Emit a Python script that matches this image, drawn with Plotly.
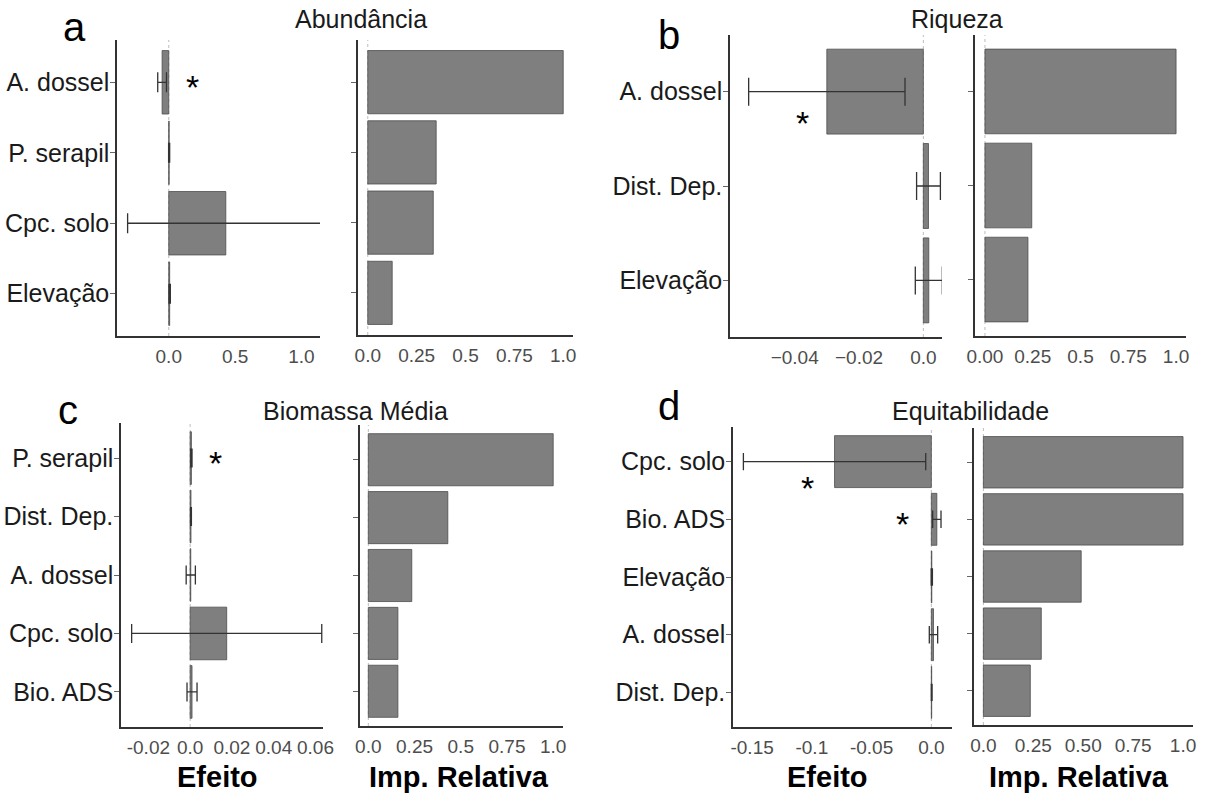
import plotly.graph_objects as go

W, H = 1206, 796
FONT = "Liberation Sans, Arial, sans-serif"

# ---------------- data ----------------
a_cats = ["A. dossel", "P. serapil", "Cpc. solo", "Elevação"]
a_eff = [-0.05, 0.003, 0.43, 0.007]
a_err = [0.033, 0.004, 0.74, 0.005]
a_imp = [1.0, 0.35, 0.335, 0.125]

b_cats = ["A. dossel", "Dist. Dep.", "Elevação"]
b_eff = [-0.030, 0.0016, 0.0017]
b_err = [0.0243, 0.0037, 0.0042]
b_imp = [1.0, 0.245, 0.225]

c_cats = ["P. serapil", "Dist. Dep.", "A. dossel", "Cpc. solo", "Bio. ADS"]
c_eff = [0.0006, 0.0004, 0.0003, 0.0175, 0.0009]
c_err = [0.0003, 0.0002, 0.0022, 0.0455, 0.0024]
c_imp = [1.0, 0.43, 0.235, 0.16, 0.16]

d_cats = ["Cpc. solo", "Bio. ADS", "Elevação", "A. dossel", "Dist. Dep."]
d_eff = [-0.081, 0.0046, 0.0004, 0.0018, 0.0003]
d_err = [0.0763, 0.0035, 0.0005, 0.0035, 0.0003]
d_imp = [1.0, 1.0, 0.49, 0.29, 0.235]

titles = ["Abundância", "Riqueza", "Biomassa Média", "Equitabilidade"]
letters = ["a", "b", "c", "d"]

a_eff_ticks = [0, 0.5, 1.0]
a_eff_text = ["0.0", "0.5", "1.0"]
b_eff_ticks = [-0.04, -0.02, 0]
b_eff_text = ["\u22120.04", "\u22120.02", "0.0"]
c_eff_ticks = [-0.02, 0, 0.02, 0.04, 0.06]
c_eff_text = ["-0.02", "0.0", "0.02", "0.04", "0.06"]
d_eff_ticks = [-0.15, -0.1, -0.05, 0]
d_eff_text = ["-0.15", "-0.1", "-0.05", "0.0"]
imp_ticks = [0, 0.25, 0.5, 0.75, 1.0]
a_imp_text = ["0.0", "0.25", "0.5", "0.75", "1.0"]
b_imp_text = ["0.00", "0.25", "0.5", "0.75", "1.0"]
c_imp_text = ["0.0", "0.25", "0.5", "0.75", "1.0"]
d_imp_text = ["0.0", "0.25", "0.50", "0.75", "1.0"]

# ---------------- layout geometry (pixels) ----------------
panels = [
    dict(cats=a_cats, eff=a_eff, err=a_err, imp=a_imp, er=[-0.39, 1.14], et=a_eff_ticks, ett=a_eff_text,
         ir=[-0.05, 1.05], itt=a_imp_text, ebox=(117, 320, 40, 336), ibox=(358, 573, 40, 335), cap=10),
    dict(cats=b_cats, eff=b_eff, err=b_err, imp=b_imp, er=[-0.0601, 0.0058], et=b_eff_ticks, ett=b_eff_text,
         ir=[-0.052, 1.052], itt=b_imp_text, ebox=(730, 942, 35, 337), ibox=(975, 1186, 35, 336), cap=14),
    dict(cats=c_cats, eff=c_eff, err=c_err, imp=c_imp, er=[-0.0331, 0.0636], et=c_eff_ticks, ett=c_eff_text,
         ir=[-0.045, 1.053], itt=c_imp_text, ebox=(121, 323, 423, 727), ibox=(360, 563, 425, 726), cap=9.5),
    dict(cats=d_cats, eff=d_eff, err=d_err, imp=d_imp, er=[-0.166, 0.0173], et=d_eff_ticks, ett=d_eff_text,
         ir=[-0.047, 1.05], itt=d_imp_text, ebox=(733, 952, 427, 727), ibox=(974, 1193, 428, 725), cap=8.7),
]

BAR_FILL = "#7f7f7f"
BAR_LINE = "#4d4d4d"
AX = "#333333"

fig = go.Figure()
layout = dict(
    width=W, height=H, margin=dict(l=0, r=0, t=0, b=0, autoexpand=False),
    paper_bgcolor="white", plot_bgcolor="white", showlegend=False,
    font=dict(family=FONT, color="#1a1a1a"),
    bargap=0.1,
)
shapes = []
annotations = []


def xdom(x0, x1):
    return [x0 / W, x1 / W]


def ydom(top, bot):
    return [1 - bot / H, 1 - top / H]


ax_i = 0
for p in panels:
    n = len(p["cats"])
    yrange = [n - 1 + 0.6, -0.6]
    for kind in ("eff", "imp"):
        ax_i += 1
        xa = "xaxis" if ax_i == 1 else f"xaxis{ax_i}"
        ya = "yaxis" if ax_i == 1 else f"yaxis{ax_i}"
        xr = "x" if ax_i == 1 else f"x{ax_i}"
        yr = "y" if ax_i == 1 else f"y{ax_i}"
        box = p["ebox"] if kind == "eff" else p["ibox"]
        if kind == "eff":
            fig.add_trace(go.Bar(
                x=p["eff"], y=p["cats"], orientation="h", width=0.9,
                marker=dict(color=BAR_FILL, line=dict(color=BAR_LINE, width=0.8)),
                error_x=dict(type="data", array=p["err"], visible=True, color=AX,
                             thickness=1.3, width=p["cap"]),
                xaxis=xr, yaxis=yr, hoverinfo="skip"))
            rng, tv, tt = p["er"], p["et"], p["ett"]
        else:
            fig.add_trace(go.Bar(
                x=p["imp"], y=p["cats"], orientation="h", width=0.9,
                marker=dict(color=BAR_FILL, line=dict(color=BAR_LINE, width=0.8)),
                xaxis=xr, yaxis=yr, hoverinfo="skip"))
            rng, tv, tt = p["ir"], imp_ticks, p["itt"]
        layout[xa] = dict(
            domain=xdom(box[0], box[1]), anchor=yr, range=rng, automargin=False,
            tickvals=tv, ticktext=tt, ticks="", showgrid=False, zeroline=False,
            showline=True, linecolor=AX, linewidth=1.5,
            tickfont=dict(family=FONT, size=19, color="#4d4d4d"),
            ticklabelstandoff=2,
        )
        layout[ya] = dict(
            domain=ydom(box[2], box[3]), anchor=xr, range=yrange, automargin=False,
            type="category", categoryorder="array", categoryarray=p["cats"],
            showgrid=False, zeroline=False, showline=True, linecolor=AX, linewidth=1.5,
            ticks="outside", ticklen=5, tickwidth=1, tickcolor="#666666",
            showticklabels=(kind == "eff"),
            tickfont=dict(family=FONT, size=25, color="#1a1a1a"),
            ticklabelstandoff=-4,
        )
        shapes.append(dict(type="line", xref=xr, yref=f"{yr} domain", x0=0, x1=0, y0=0, y1=1,
                           line=dict(color="#bdbdbd", width=1, dash="dot"), layer="below"))

# ---------------- asterisks ----------------
stars = [
    ("x", "y", 0.18, "A. dossel", 0),
    ("x3", "y3", -0.0375, "A. dossel", -26),
    ("x5", "y5", 0.0119, "P. serapil", 0),
    ("x7", "y7", -0.1035, "Cpc. solo", -21),
    ("x7", "y7", -0.0245, "Bio. ADS", 0),
]
for xr, yr, xv, yv, ys in stars:
    annotations.append(dict(x=xv, y=yv, xref=xr, yref=yr, text="*", showarrow=False,
                            font=dict(family=FONT, size=34, color="black"),
                            xanchor="center", yanchor="middle", yshift=ys - 5))

# ---------------- titles & letters ----------------
title_pos = [(361, 19), (957, 19), (355, 411), (970, 411)]
for t, (x, y) in zip(titles, title_pos):
    annotations.append(dict(x=x / W, y=1 - y / H, xref="paper", yref="paper", text=t,
                            showarrow=False, xanchor="center", yanchor="middle",
                            font=dict(family=FONT, size=25, color="#1a1a1a")))
letter_pos = [(74, 27), (669, 35), (68, 410), (669, 406)]
for t, (x, y) in zip(letters, letter_pos):
    annotations.append(dict(x=x / W, y=1 - y / H, xref="paper", yref="paper", text=t,
                            showarrow=False, xanchor="center", yanchor="middle",
                            font=dict(family=FONT, size=40, color="black")))
bottom_titles = [("Efeito", 217), ("Imp. Relativa", 459), ("Efeito", 827), ("Imp. Relativa", 1079)]
for t, x in bottom_titles:
    annotations.append(dict(x=x / W, y=1 - 777 / H, xref="paper", yref="paper", text=f"<b>{t}</b>",
                            showarrow=False, xanchor="center", yanchor="middle",
                            font=dict(family=FONT, size=29, color="black")))

layout["shapes"] = shapes
layout["annotations"] = annotations
fig.update_layout(**layout)
fig.write_html("out.html", config={"displayModeBar": False},
               post_script="document.body.style.margin='0';document.body.style.overflow='hidden';")
